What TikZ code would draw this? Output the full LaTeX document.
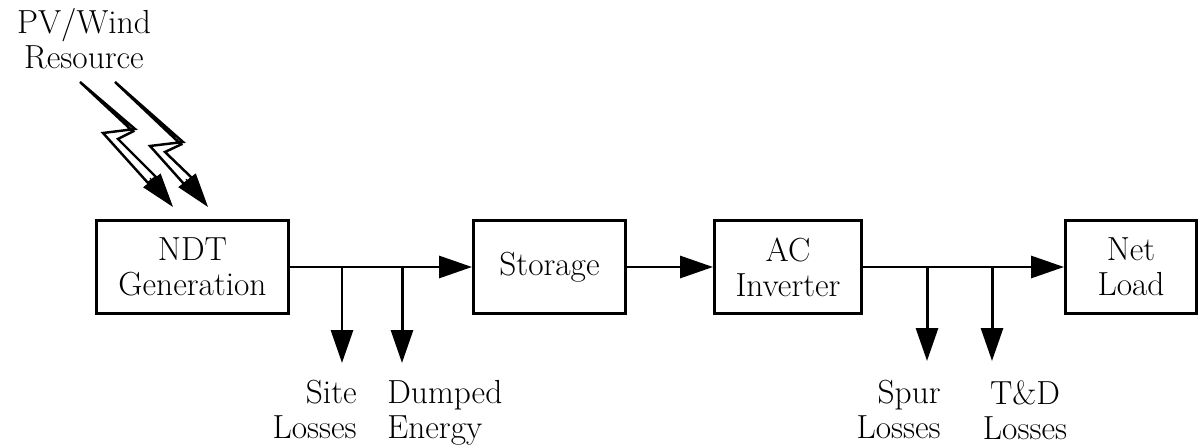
\documentclass[tikz,border=0pt]{standalone}
\usetikzlibrary{arrows.meta}

\begin{document}
\begin{tikzpicture}[
    x=0.02cm, y=-0.02cm,
    box/.style={draw, line width=1.7pt, minimum height=1.86cm,
                inner sep=0pt, align=center, font=\fontsize{19}{20}\selectfont},
    flow/.style={-{Triangle[length=0.66cm, width=0.44cm]}, line width=1.7pt},
    note/.style={font=\fontsize{19}{20}\selectfont, inner sep=0pt},
    bolt/.style={draw, line width=1.4pt, line join=miter, fill=white},
    bolthead/.style={-{Triangle[length=0.68cm, width=0.44cm]}, line width=0.6pt},
]
    \useasboundingbox (0,0) rectangle (1199,445);

    % blocks
    \node[box, minimum width=3.84cm] (ndt) at (192.5,267) {NDT\\Generation};
    \node[box, minimum width=3.04cm] (storage) at (549.5,267) {Storage};
    \node[box, minimum width=2.94cm] (inverter) at (788,267) {AC\\Inverter};
    \node[box, minimum width=2.62cm] (load) at (1131,267) {Net\\Load};

    % resource and the two bolts
    \node[note, align=center, anchor=north] (res) at (84,8) {PV/Wind\\Resource};
    \coordinate (boltTipA) at (173,207);
    \coordinate (boltTipB) at (208,207);
    \draw[bolt] (80,82) -- (135,129) -- (103,133) -- (148,183) -- (156,177)
        -- (118,139) -- (133,131.5) -- cycle;
    \draw[bolt] (115,82) -- (183,142) -- (150,146) -- (184,184) -- (192,178)
        -- (165,152) -- (181,144.5) -- cycle;
    \draw[bolthead] (150,178) -- (boltTipA);
    \draw[bolthead] (186,179) -- (boltTipB);

    % main flow
    \draw[flow] (ndt) -- (storage);
    \draw[flow] (storage) -- (inverter);
    \draw[flow] (inverter) -- (load);

    % losses
    \coordinate (siteTip) at (342,363);
    \coordinate (dumpTip) at (402,363);
    \coordinate (spurTip) at (927,361);
    \coordinate (tdTip) at (992,361);
    \draw[flow] (ndt.east -| siteTip) -- (siteTip);
    \draw[flow] (ndt.east -| dumpTip) -- (dumpTip);
    \draw[flow] (inverter.east -| spurTip) -- (spurTip);
    \draw[flow] (inverter.east -| tdTip) -- (tdTip);

    \node[note, align=right, anchor=north east] (siteLbl) at (357,380) {Site\\Losses};
    \node[note, align=left, anchor=north west] (dumpLbl) at (387,380) {Dumped\\Energy};
    \node[note, align=right, anchor=north east] (spurLbl) at (941,380) {Spur\\Losses};
    \node[note, align=center, anchor=north] (tdLbl) at (1025,380) {T\&D\\Losses};

\end{tikzpicture}
\end{document}
